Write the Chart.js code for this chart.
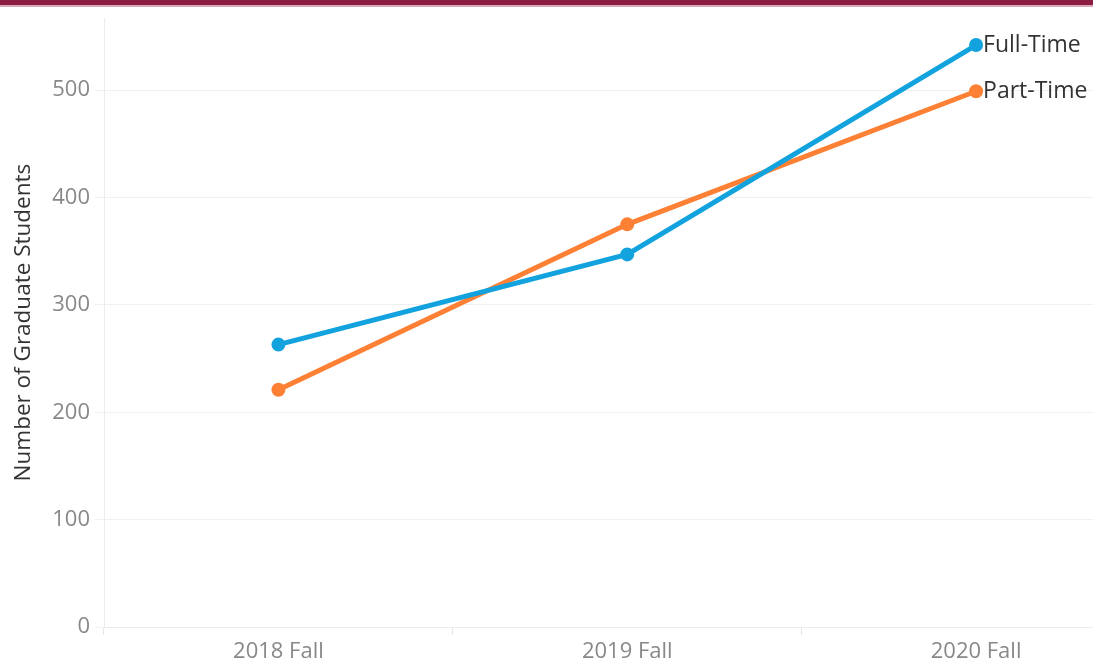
<!DOCTYPE html>
<html>
<head>
<meta charset="utf-8">
<script src="https://cdn.jsdelivr.net/npm/chart.js@4/dist/chart.umd.min.js"></script>
<style>
  html, body { margin: 0; padding: 0; background: #fff; overflow: hidden; width: 1093px; height: 661px; }
  #topbar { position: absolute; left: 0; top: 0; width: 1093px; height: 5px; background: #8b1d44; border-bottom: 2px solid #d9a9b8; z-index: 2; }
  #wrap { position: absolute; left: 0; top: 0; width: 1160px; height: 661px; }
</style>
</head>
<body>
<div id="topbar"></div>
<div id="wrap"><canvas id="enroll-chart"></canvas></div>
<script>
// graduate enrolment by term
var terms = ['2018 Fall', '2019 Fall', '2020 Fall'];
var fullTime = [263, 347, 542];
var partTime = [221, 375, 499];
var seriesNames = ['Full-Time', 'Part-Time'];
var yTicks = [0, 100, 200, 300, 400, 500];

var FONT = "'Open Sans', sans-serif";

// draw the series name next to the last point
var endLabels = {
    id: 'endLabels',
    afterDatasetsDraw: function (chart) {
        var ctx = chart.ctx;
        ctx.save();
        ctx.font = '23px ' + FONT;
        ctx.fillStyle = '#333';
        ctx.textBaseline = 'middle';
        ctx.textAlign = 'left';
        chart.data.datasets.forEach(function (ds, i) {
            var meta = chart.getDatasetMeta(i);
            var pt = meta.data[meta.data.length - 1];
            ctx.fillText(ds.label, pt.x + 7, pt.y);
        });
        ctx.restore();
    }
};

var ctx = document.getElementById('enroll-chart').getContext('2d');
var chart = new Chart(ctx, {
    type: 'line',
    data: {
        labels: terms,
        datasets: [{
            label: seriesNames[0],
            data: fullTime,
            borderColor: '#12a3de',
            backgroundColor: '#12a3de',
            borderWidth: 5,
            pointRadius: 4.5,
            pointHoverRadius: 4.5
        }, {
            label: seriesNames[1],
            data: partTime,
            borderColor: '#fd8035',
            backgroundColor: '#fd8035',
            borderWidth: 5,
            pointRadius: 4.5,
            pointHoverRadius: 4.5
        }]
    },
    options: {
        responsive: true,
        maintainAspectRatio: false,
        animation: false,
        layout: { padding: { top: 8, right: 0, bottom: 0, left: 0 } },
        plugins: {
            legend: { display: false },
            tooltip: { enabled: false }
        },
        scales: {
            x: {
                offset: true,
                grid: { offset: true, drawOnChartArea: false, color: '#e6e6e6', tickLength: 8 },
                border: { color: '#ececec' },
                ticks: { color: '#888', font: { family: FONT, size: 22 }, padding: 4 },
                afterFit: function (s) { s.height = 34; }
            },
            y: {
                min: 0,
                max: 567,
                afterBuildTicks: function (s) {
                    s.ticks = yTicks.map(function (v) { return { value: v }; });
                },
                grid: { color: '#f0f0f0', tickLength: 9 },
                border: { color: '#ececec' },
                ticks: { color: '#888', font: { family: FONT, size: 22 }, padding: 5 },
                title: {
                    display: true,
                    text: 'Number of Graduate Students',
                    color: '#333',
                    font: { family: FONT, size: 22.5 },
                    padding: { top: 10, bottom: 0 }
                },
                afterFit: function (s) { s.width = 104; }
            }
        }
    },
    plugins: [endLabels]
});
</script>
</body>
</html>
